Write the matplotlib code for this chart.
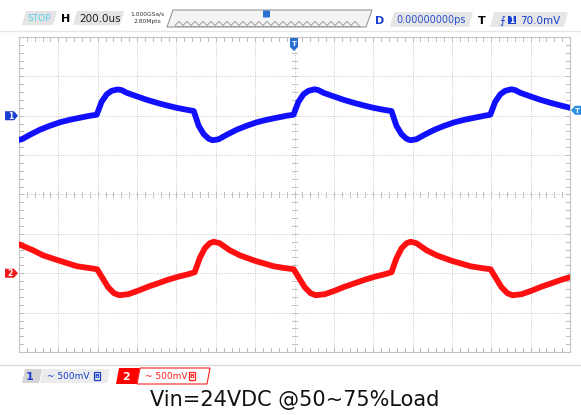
import matplotlib
matplotlib.use("Agg")
import matplotlib.pyplot as plt
from matplotlib.patches import Polygon, Rectangle, FancyBboxPatch
import numpy as np

# ---------------- data (read from the screen) ----------------
# time axis: 200 us/div, 14 div, trigger at centre
time_per_div_us = 200
n_div_x = 14
n_div_y = 8
ch1_scale_mV = 500
ch2_scale_mV = 500
ch1_offset_div = 2.0
ch2_offset_div = -2.0
trig_level_mV = 70.0

ch1_t_us = [-1400, -1385, -1344, -1294, -1243, -1192, -1141, -1090, -1040, -1005,
            -980, -954, -929, -898, -878, -853, -802, -751, -700, -649, -599, -548, -512,
            -487, -461, -436, -416, -385, -344, -294, -243, -192, -141, -90, -40, -5,
            20, 46, 71, 102, 122, 147, 198, 249, 300, 351, 401, 452, 493,
            518, 544, 569, 589, 620, 661, 711, 762, 813, 864, 915, 965, 995,
            1020, 1046, 1071, 1102, 1122, 1147, 1198, 1249, 1300, 1351, 1400]
ch1_mV = [-305, -298, -241, -178, -127, -83, -51, -25, 0, 13,
          178, 273, 317, 334, 325, 292, 247, 203, 165, 131, 101, 76, 60,
          -127, -235, -292, -311, -298, -241, -178, -127, -83, -51, -25, 0, 13,
          178, 273, 317, 336, 325, 292, 247, 203, 165, 131, 101, 76, 60,
          -127, -235, -292, -311, -298, -241, -178, -127, -83, -51, -25, 0, 13,
          178, 273, 317, 336, 325, 292, 247, 203, 165, 131, 101]

ch2_t_us = [-1400, -1329, -1278, -1202, -1105, -1003,
            -978, -947, -917, -890, -845, -795, -744, -693, -642, -591, -541, -507,
            -482, -456, -431, -410, -380, -329, -278, -202, -106, -50, -4,
            21, 52, 82, 108, 154, 204, 255, 306, 357, 408, 458, 493,
            518, 544, 569, 590, 620, 671, 722, 798, 894, 950, 996,
            1021, 1052, 1082, 1108, 1154, 1204, 1255, 1306, 1357, 1400]
ch2_mV = [368, 292, 228, 165, 89, 51,
          -51, -178, -254, -279, -266, -222, -171, -127, -82, -44, -13, 13,
          190, 317, 381, 400, 381, 292, 228, 159, 89, 66, 51,
          -51, -178, -254, -279, -266, -222, -171, -127, -82, -44, -13, 13,
          190, 317, 381, 400, 381, 292, 228, 159, 89, 66, 51,
          -51, -178, -254, -279, -266, -222, -171, -127, -82, -50]

caption = "Vin=24VDC @50~75%Load"

# ---------------- figure ----------------
W, H = 581, 415
fig = plt.figure(figsize=(W / 100, H / 100), dpi=100)
fig.patch.set_facecolor("white")

# pixel geometry of the graticule
gx0, gx1, gy0, gy1 = 19, 570, 37, 352
ax = fig.add_axes([gx0 / W, 1 - gy1 / H, (gx1 - gx0) / W, (gy1 - gy0) / H])
half_t = n_div_x / 2 * time_per_div_us
ax.set_xlim(-half_t, half_t)
ax.set_ylim(-n_div_y / 2, n_div_y / 2)
ax.set_xticks([]); ax.set_yticks([])
for s in ax.spines.values():
    s.set_color("#c4c4c4"); s.set_linewidth(0.8)

grid_c = "#c8c8c8"
for i in range(1, n_div_x):
    x = -half_t + i * time_per_div_us
    ax.axvline(x, color=grid_c, lw=0.7, ls=(0, (1, 1.5)), zorder=1)
for j in range(1, n_div_y):
    y = -n_div_y / 2 + j
    ax.axhline(y, color=grid_c, lw=0.7, ls=(0, (1, 1.5)), zorder=1)

# minor ticks: border + centre
px_per_div = (gx1 - gx0) / n_div_x
tick_len_t = 4 / px_per_div * time_per_div_us
tick_len_v = 4 / ((gy1 - gy0) / n_div_y)
for k in range(1, n_div_x * 5):
    x = -half_t + k * time_per_div_us / 5
    ax.plot([x, x], [-4, -4 + tick_len_v], color="#b8b8b8", lw=0.7, zorder=1)
    ax.plot([x, x], [4, 4 - tick_len_v], color="#b8b8b8", lw=0.7, zorder=1)
    ax.plot([x, x], [-tick_len_v * 0.7, tick_len_v * 0.7], color="#c0c0c0", lw=0.7, zorder=1)
for k in range(1, n_div_y * 5):
    y = -4 + k / 5
    ax.plot([-half_t, -half_t + tick_len_t], [y, y], color="#b8b8b8", lw=0.7, zorder=1)
    ax.plot([half_t, half_t - tick_len_t], [y, y], color="#b8b8b8", lw=0.7, zorder=1)
    ax.plot([-tick_len_t * 0.7, tick_len_t * 0.7], [y, y], color="#c0c0c0", lw=0.7, zorder=1)

# waveforms
c1 = "#1010ff"
c2 = "#ff1010"
y1 = np.array(ch1_mV) / ch1_scale_mV + ch1_offset_div
y2 = np.array(ch2_mV) / ch2_scale_mV + ch2_offset_div
ax.plot(ch1_t_us, y1, color=c1, lw=4.2, solid_joinstyle="round", solid_capstyle="round", zorder=3)
ax.plot(ch2_t_us, y2, color=c2, lw=4.2, solid_joinstyle="round", solid_capstyle="round", zorder=3)

# ---------------- overlay for UI chrome (pixel coords) ----------------
ov = fig.add_axes([0, 0, 1, 1], zorder=5)
ov.set_xlim(0, W); ov.set_ylim(H, 0); ov.axis("off"); ov.patch.set_alpha(0)

def tab(x0, x1, y0, y1, fc="#e2e2e2", ec="none", slant=4, lw=0.8):
    ov.add_patch(Polygon([[x0, y1], [x0 + slant, y0], [x1, y0], [x1 - slant, y1]],
                         closed=True, fc=fc, ec=ec, lw=lw))

# top separator
ov.plot([0, W], [31.5, 31.5], color="#e6e6e6", lw=1)

tab(22, 57, 11, 25, fc="#e4e4e4")
ov.text(39, 18.5, "STOP", color="#55d0e8", fontsize=6.5, ha="center", va="center")
ov.text(66, 18.5, "H", color="black", fontsize=8, fontweight="bold", ha="center", va="center")
tab(73, 124, 11, 25, fc="#e4e4e4")
ov.text(100, 18.5, "200.0us", color="#202020", fontsize=7.5, ha="center", va="center")
ov.text(147, 14.5, "1.000GSa/s", color="#303030", fontsize=4.3, ha="center", va="center")
ov.text(147, 21.5, "2.80Mpts", color="#303030", fontsize=4.3, ha="center", va="center")
# memory bar
ov.add_patch(Polygon([[167, 27], [173, 10], [372, 10], [366, 27]], closed=True,
                     fc="#f4f4f4", ec="#8a8a8a", lw=0.7))
zx = np.arange(175, 360, 4.0)
zy = np.where(np.arange(len(zx)) % 2 == 0, 25.5, 21.5)
ov.plot(zx, zy, color="#909090", lw=0.6)
ov.plot([175, 360], [26, 26], color="#909090", lw=0.5)
ov.add_patch(FancyBboxPatch((263.5, 11), 6, 6, boxstyle="round,pad=0.5", fc="#2a6fd6", ec="none"))
ov.text(380, 21, "D", color="#1a3fd0", fontsize=8, fontweight="bold", ha="center", va="center")
tab(390, 473, 12, 27, fc="#e6e6e6")
ov.text(431, 20, "0.00000000ps", color="#2a50d0", fontsize=7, ha="center", va="center")
ov.text(482, 20.5, "T", color="black", fontsize=8, fontweight="bold", ha="center", va="center")
tab(490, 568, 12, 27, fc="#e6e6e6")
ov.text(502, 20.5, "⨍", color="#1a3fd0", fontsize=8, ha="center", va="center",
        family=["DejaVu Sans"])
ov.add_patch(Rectangle((507.5, 16.5), 8, 8, fc="#1a3fd0", ec="none"))
ov.text(511.5, 20.7, "1", color="white", fontsize=5.5, fontweight="bold", ha="center", va="center")
ov.text(540, 20.5, f"{trig_level_mV:.1f}mV", color="#1a3fd0", fontsize=7.5, ha="center", va="center")

# trigger position marker on top
ov.add_patch(Polygon([[290, 38], [298, 38], [298, 47], [294, 51], [290, 47]],
                     closed=True, fc="#2a6fd6", ec="none"))
ov.text(294, 44, "T", color="white", fontsize=5, fontweight="bold", ha="center", va="center")

# channel markers on left
def ch_marker(y, col, label):
    ov.add_patch(Polygon([[5, y - 4.5], [14, y - 4.5], [18, y], [14, y + 4.5], [5, y + 4.5]],
                         closed=True, fc=col, ec="none"))
    ov.text(10.5, y + 0.3, label, color="white", fontsize=5.5, fontweight="bold",
            ha="center", va="center")

def to_px_y(div):
    return gy0 + (n_div_y / 2 - div) * (gy1 - gy0) / n_div_y

ch_marker(to_px_y(ch1_offset_div), "#1a3fd0", "1")
ch_marker(to_px_y(ch2_offset_div), "#ee1c1c", "2")

# trigger level marker on right
ty = to_px_y(ch1_offset_div + trig_level_mV / ch1_scale_mV)
ov.add_patch(Polygon([[571, ty], [575, ty - 4.5], [581, ty - 4.5], [581, ty + 4.5], [575, ty + 4.5]],
                     closed=True, fc="#2a8fe6", ec="none"))
ov.text(577.5, ty + 0.3, "T", color="white", fontsize=5, fontweight="bold", ha="center", va="center")

# bottom separator
ov.plot([0, W], [364.5, 364.5], color="#dcdcdc", lw=1)

# channel 1 tab
tab(22, 42, 369, 383, fc="#d4d4d4", slant=3)
ov.text(30, 376.5, "1", color="#1a3fd0", fontsize=8, fontweight="bold", ha="center", va="center")
tab(40, 110, 369, 383, fc="#ececec", slant=3)
ov.text(68, 376.5, "~ 500mV", color="#1a3fd0", fontsize=6.5, ha="center", va="center")
ov.add_patch(Rectangle((94, 372), 6, 8, fc="none", ec="#1a3fd0", lw=0.9))
ov.text(97, 376.2, "B", color="#1a3fd0", fontsize=4.5, fontweight="bold", ha="center", va="center")
# channel 2 tab
tab(116, 140, 368, 384, fc="#ff0000", slant=3)
ov.text(126, 376.5, "2", color="white", fontsize=8, fontweight="bold", ha="center", va="center")
tab(137, 210, 368, 384, fc="white", ec="#ff2020", slant=3)
ov.text(166, 376.5, "~ 500mV", color="#ff2020", fontsize=6.5, ha="center", va="center")
ov.add_patch(Rectangle((189, 372), 6, 8, fc="none", ec="#ff2020", lw=0.9))
ov.text(192, 376.2, "B", color="#ff2020", fontsize=4.5, fontweight="bold", ha="center", va="center")

# caption
ov.text(295, 400, caption, color="#111111", fontsize=15, ha="center", va="center")

fig.savefig("out.png", dpi=100, facecolor="white")
